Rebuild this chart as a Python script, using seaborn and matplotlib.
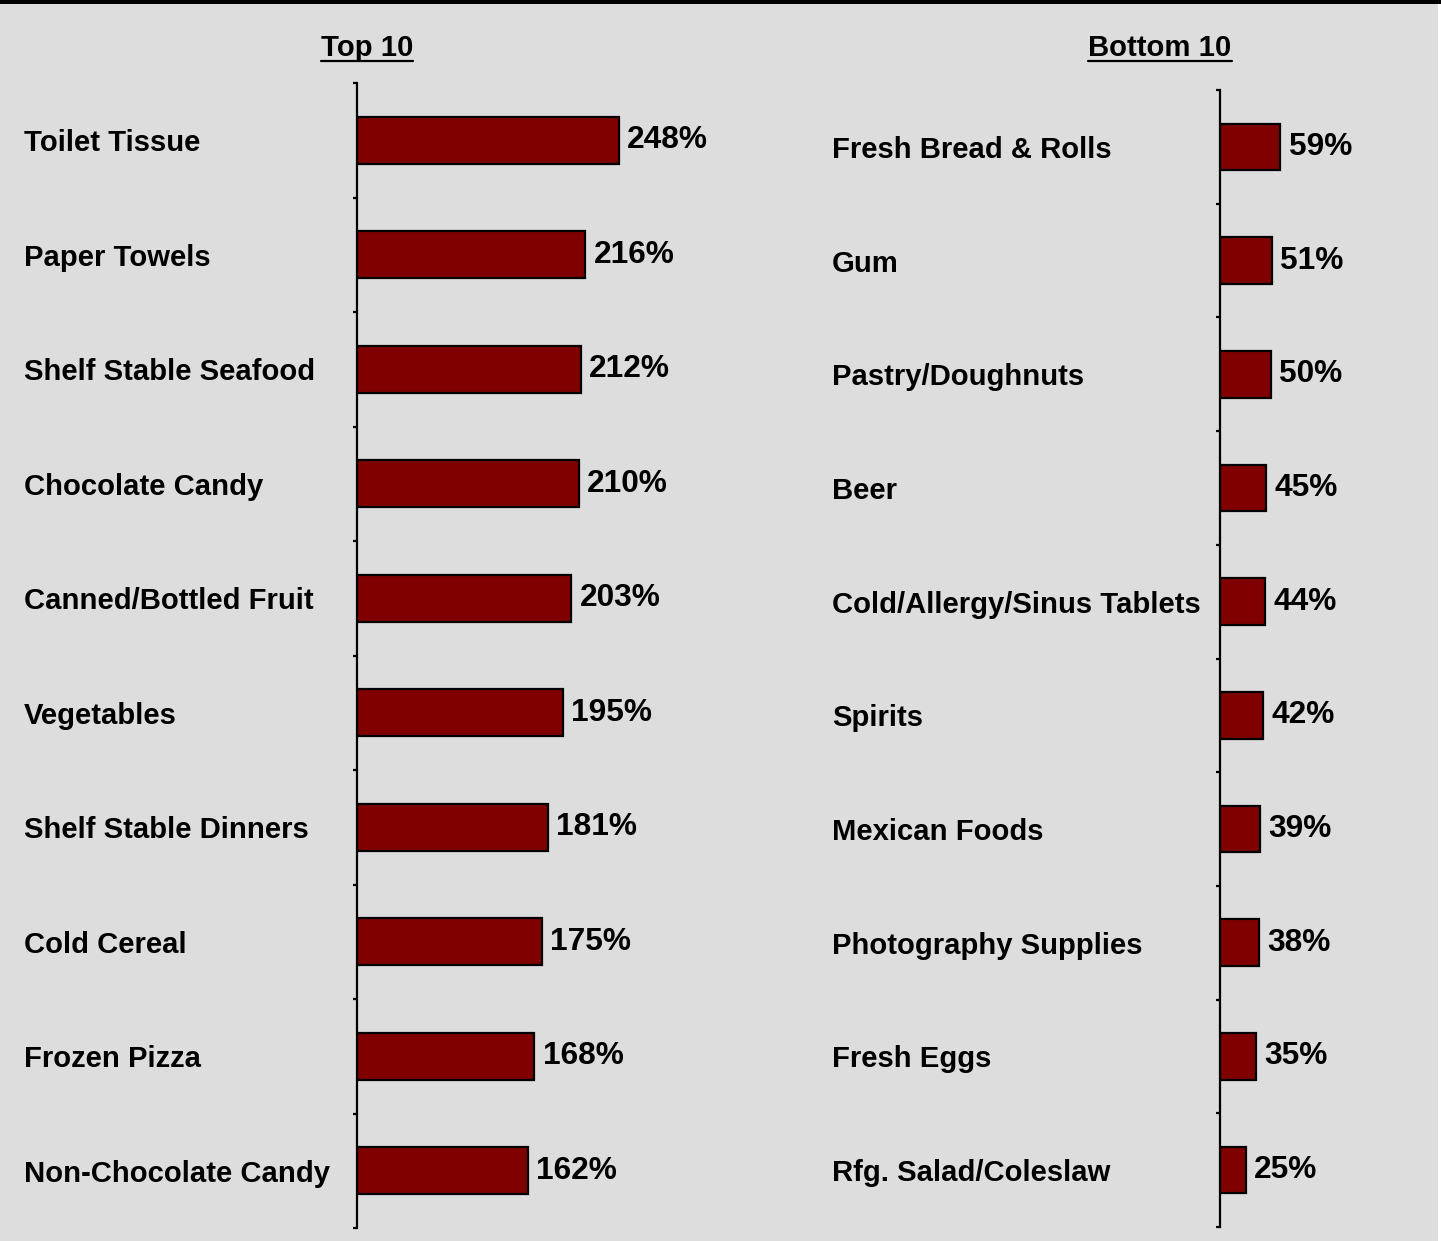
import matplotlib
matplotlib.use("Agg")
import matplotlib.pyplot as plt
from matplotlib.lines import Line2D
from matplotlib.patches import Rectangle
import seaborn as sns
import pandas as pd
import numpy as np

# Category growth index: ten strongest and ten weakest categories
top_categories = ["Toilet Tissue", "Paper Towels", "Shelf Stable Seafood", "Chocolate Candy",
                  "Canned/Bottled Fruit", "Vegetables", "Shelf Stable Dinners", "Cold Cereal",
                  "Frozen Pizza", "Non-Chocolate Candy"]
top_values = [248, 216, 212, 210, 203, 195, 181, 175, 168, 162]

bottom_categories = ["Fresh Bread & Rolls", "Gum", "Pastry/Doughnuts", "Beer",
                     "Cold/Allergy/Sinus Tablets", "Spirits", "Mexican Foods",
                     "Photography Supplies", "Fresh Eggs", "Rfg. Salad/Coleslaw"]
bottom_values = [59, 51, 50, 45, 44, 42, 39, 38, 35, 25]

panel_titles = ["Top 10", "Bottom 10"]

sns.set_style("white")
plt.rcParams["font.family"] = ["Liberation Sans", "DejaVu Sans"]
plt.rcParams["font.weight"] = "bold"

W, H, DPI = 1441, 1241, 100
BG = "#DDDDDD"
BAR = "#800000"
FS = 21.1
FS_VAL = 22.8

fig = plt.figure(figsize=(W / DPI, H / DPI), dpi=DPI, facecolor=BG)

# black band at the top edge, white sliver at the right edge
fig.add_artist(Rectangle((0, 1 - 4 / H), 1, 4 / H, transform=fig.transFigure,
                         facecolor="black", edgecolor="none"))
fig.add_artist(Rectangle((1438 / W, 0), 3 / W, 1 - 4 / H, transform=fig.transFigure,
                         facecolor="white", edgecolor="none"))


def panel(rect_px, cats, vals, xmax, label_x_px):
    x0, y_top, width_px, y_bot = rect_px
    ax = fig.add_axes([x0 / W, 1 - y_bot / H, width_px / W, (y_bot - y_top) / H])
    ax.set_facecolor("none")
    df = pd.DataFrame({"category": cats, "value": vals})
    sns.barplot(data=df, x="value", y="category", orient="h", color=BAR, saturation=1,
                edgecolor="black", linewidth=1.6, width=0.41, ax=ax)
    ax.set_xlim(0, xmax)
    ax.set_ylim(len(cats) - 0.5, -0.5)
    ax.set_xlabel("")
    ax.set_ylabel("")
    ax.set_xticks([])
    for s in ["top", "right", "bottom"]:
        ax.spines[s].set_visible(False)
    ax.spines["left"].set_linewidth(1.6)
    ax.spines["left"].set_color("black")
    # tick marks sit on the boundaries between categories
    ax.set_yticks(np.arange(-0.5, len(cats), 1.0), minor=True)
    ax.tick_params(axis="y", which="minor", length=3, width=1.6, color="black", direction="out", left=True)
    pad_pt = (x0 - label_x_px) * 72 / DPI
    ax.tick_params(axis="y", which="major", length=0, pad=pad_pt, left=True)
    for t in ax.get_yticklabels():
        t.set_horizontalalignment("left")
        t.set_fontsize(FS)
        t.set_fontweight("bold")
        t.set_color("black")
    for c in ax.containers:
        ax.bar_label(c, labels=[f"{v:.0f}%" for v in vals], padding=6,
                     fontsize=FS_VAL, fontweight="bold", color="black")
    return ax


ax1 = panel((357, 83, 443, 1228), top_categories, top_values, 443 / 1.056, 24)
ax2 = panel((1220, 90, 200, 1227), bottom_categories, bottom_values, 200 / 1.02, 832)

# underlined panel headings
fig.canvas.draw()
renderer = fig.canvas.get_renderer()
for title, cx in zip(panel_titles, [367, 1160]):
    t = fig.text(cx / W, 1 - 48 / H, title, ha="center", va="center",
                 fontsize=FS, fontweight="bold", color="black")
    bb = t.get_window_extent(renderer=renderer)
    yl = 1 - 61 / H
    fig.add_artist(Line2D([bb.x0 / W, bb.x1 / W], [yl, yl], transform=fig.transFigure,
                          color="black", linewidth=1.6))

fig.savefig("out.png", dpi=DPI, facecolor=BG)
